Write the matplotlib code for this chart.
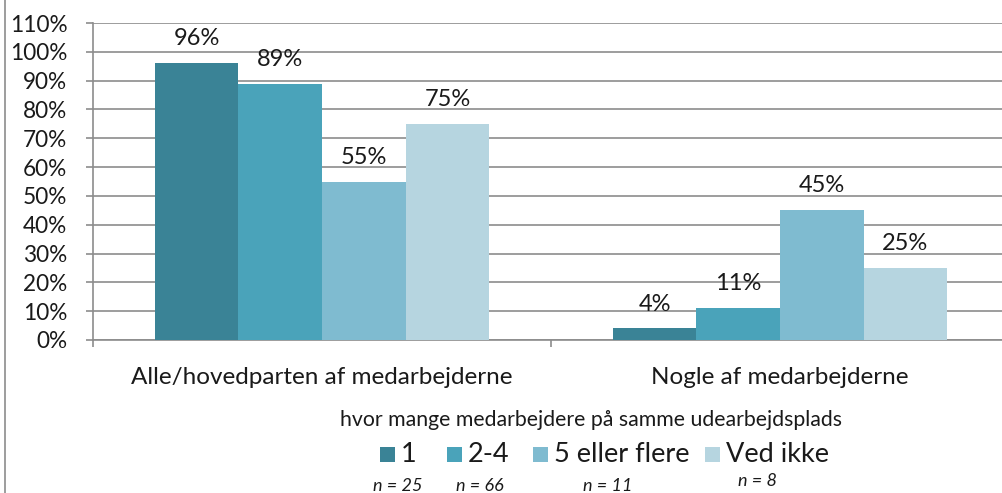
import matplotlib
matplotlib.use("Agg")
import matplotlib.pyplot as plt
from matplotlib.patches import Rectangle
from matplotlib.lines import Line2D
import numpy as np

plt.rcParams['font.family'] = ['Lato', 'DejaVu Sans']

categories = ["Alle/hovedparten af medarbejderne", "Nogle af medarbejderne"]
series_names = ["1", "2-4", "5 eller flere", "Ved ikke"]
n_labels = ["n = 25", "n = 66", "n = 11", "n = 8"]
values = {
    "1": [96, 4],
    "2-4": [89, 11],
    "5 eller flere": [55, 45],
    "Ved ikke": [75, 25],
}
colors = ["#3a8396", "#4aa3ba", "#7fbbd0", "#b6d5e0"]
yticks = list(range(0, 111, 10))
legend_title = "hvor mange medarbejdere på samme udearbejdsplads"

TXT = "#1a1a1a"
GRID = "#8c8c8c"
W, H = 1003, 493
fig = plt.figure(figsize=(W / 100, H / 100), dpi=100)
ax_left, ax_right = 93 / W, 1009 / W
ax_bottom, ax_top = 1 - 340 / H, 1 - 23 / H
ax = fig.add_axes([ax_left, ax_bottom, ax_right - ax_left, ax_top - ax_bottom])

x = np.arange(len(categories))
bw = 0.1825
for i, name in enumerate(series_names):
    pos = x + (i - 1.5) * bw
    bars = ax.bar(pos, values[name], width=bw, color=colors[i], zorder=3)
    for b, v in zip(bars, values[name]):
        ax.text(b.get_x() + b.get_width() / 2, v + 6.2, f"{v}%", ha="center",
                va="baseline", fontsize=17, color=TXT, zorder=4)

ax.set_xlim(-0.5, 1.5)
ax.set_ylim(0, 110)
ax.set_yticks(yticks)
ax.set_yticklabels([f"{t}%" for t in yticks], fontsize=16.3, color=TXT)
ax.yaxis.grid(True, color=GRID, linewidth=1.2, zorder=0)
ax.set_axisbelow(True)

ax.set_xticks([-0.5, 0.5, 1.5])
ax.set_xticklabels([])
for xi, c in zip(x, categories):
    ax.text(xi, -13, c, ha="center", va="center", fontsize=17.5, color=TXT)

for s in ["top", "right"]:
    ax.spines[s].set_visible(False)
for s in ["left", "bottom"]:
    ax.spines[s].set_color(GRID)
    ax.spines[s].set_linewidth(1.2)
ax.tick_params(axis="y", length=5, width=1.2, color=GRID, pad=13.5)
ax.tick_params(axis="x", length=5, width=1.2, color=GRID)

# legend (manual layout, Excel style)
fig.text(591 / W, 1 - 420 / H, legend_title, ha="center", va="center",
         fontsize=15.3, color=TXT)
sq_x = [380, 447, 533, 705]
sq = 15
for xx, c, name in zip(sq_x, colors, series_names):
    fig.add_artist(Rectangle((xx / W, 1 - 462 / H), sq / W, sq / H,
                             transform=fig.transFigure, facecolor=c,
                             edgecolor="none"))
    fig.text((xx + sq + 6) / W, 1 - 455 / H, name, ha="left", va="center",
             fontsize=19.5, color=TXT)

n_x = [398, 480, 608, 758]
n_y = [486, 486, 486, 481]
for xx, yy, lab in zip(n_x, n_y, n_labels):
    fig.text(xx / W, 1 - yy / H, lab, ha="center", va="center", fontsize=13,
             style="italic", color=TXT)

fig.add_artist(Line2D([5 / W, 5 / W], [0, 1], transform=fig.transFigure,
                      color=GRID, linewidth=1.2))

fig.savefig("out.png", dpi=100)
